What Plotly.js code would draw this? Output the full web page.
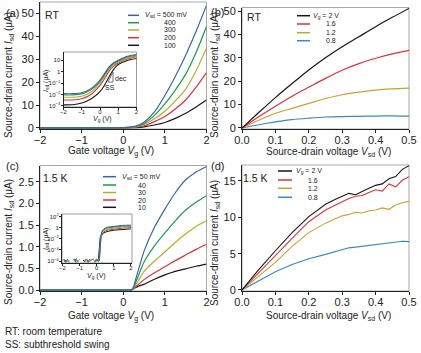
<!DOCTYPE html>
<html><head><meta charset="utf-8">
<script src="https://cdn.plot.ly/plotly-3.0.1.min.js"></script>
<style>html,body{margin:0;padding:0;background:#fff}#chart{width:421px;height:353px}</style>
</head><body><div id="chart"></div>
<script>
// ---------- DATA ----------
// (a) RT transfer curves, Isd (uA) vs Vg (V)
const vgA = [-2, -1.5, -1, -0.5, 0, 0.25, 0.4, 0.5, 0.75, 1.0, 1.25, 1.5, 1.75, 2.0];
const vsdLabelsA = ['500 mV', '400', '300', '200', '100'];
const idA500 = [0.01, 0.01, 0.02, 0.05, 0.2, 0.6, 1.5, 2.5, 7.0, 14.2, 22.5, 31.8, 42.2, 53.5];
const idA400 = [0.01, 0.01, 0.01, 0.04, 0.15, 0.5, 1.2, 2.0, 5.5, 10.5, 16.5, 23.5, 33.0, 44.3];
const idA300 = [0.005, 0.005, 0.01, 0.03, 0.1, 0.4, 0.9, 1.5, 4.0, 7.3, 11.8, 17.0, 25.0, 34.8];
const idA200 = [0.003, 0.003, 0.005, 0.02, 0.07, 0.3, 0.6, 1.0, 2.8, 5.0, 8.3, 12.2, 17.8, 24.2];
const idA100 = [0.001, 0.001, 0.002, 0.005, 0.02, 0.1, 0.3, 0.5, 1.3, 2.4, 4.2, 6.4, 9.2, 12.2];
// (a) inset, log scale
const vgAi = [-2, -1.5, -1, -0.5, 0, 0.25, 0.5, 0.75, 1, 1.5, 2];
const idAi500 = [0.01175, 0.01175, 0.01413, 0.0316, 0.182, 0.708, 2.63, 6.03, 10, 22.4, 31.6];
const idAi400 = [0.00912, 0.00912, 0.01122, 0.0251, 0.1413, 0.537, 2.09, 5.01, 8.51, 19.05, 28.2];
const idAi300 = [0.00575, 0.00575, 0.00708, 0.0166, 0.1, 0.38, 1.585, 3.98, 7.08, 15.85, 24.0];
const idAi200 = [0.00331, 0.00331, 0.00417, 0.01, 0.0631, 0.24, 1.12, 3.02, 5.62, 12.6, 19.95];
const idAi100 = [0.00123, 0.00126, 0.00178, 0.00398, 0.0174, 0.0631, 0.355, 1.585, 4.17, 9.55, 14.1];

// (b) RT output curves, Isd (uA) vs Vsd (V)
const vsdB = [0, 0.05, 0.1, 0.15, 0.2, 0.25, 0.3, 0.35, 0.4, 0.45, 0.5];
const vgLabels = ['2 V', '1.6', '1.2', '0.8'];
const idB20 = [0, 6.6, 13.0, 19.0, 24.8, 30.0, 34.7, 39.0, 43.3, 47.3, 51.1];
const idB16 = [0, 4.8, 9.3, 13.6, 17.4, 21.2, 24.7, 27.5, 29.8, 31.7, 33.2];
const idB12 = [0, 3.3, 6.3, 8.4, 10.5, 12.6, 14.2, 15.3, 16.2, 16.7, 17.0];
const idB08 = [0, 1.4, 2.6, 3.6, 4.2, 4.7, 4.9, 5.0, 5.1, 5.2, 5.1];

// (c) 1.5 K transfer curves
const vgC = [-2, -1, 0, 0.1, 0.15, 0.2, 0.25, 0.3, 0.4, 0.5, 0.75, 1.0, 1.25, 1.5, 1.75, 2.0];
const vsdLabelsC = ['50 mV', '40', '30', '20', '10'];
const idC50 = [0, 0, 0, 0, 0, 0, 0.08, 0.25, 0.58, 0.9, 1.45, 1.87, 2.25, 2.55, 2.73, 2.85];
const idC40 = [0, 0, 0, 0, 0, 0, 0.06, 0.18, 0.42, 0.65, 1.02, 1.32, 1.6, 1.85, 2.03, 2.18];
const idC30 = [0, 0, 0, 0, 0, 0, 0.04, 0.12, 0.28, 0.43, 0.67, 0.88, 1.1, 1.3, 1.47, 1.6];
const idC20 = [0, 0, 0, 0, 0, 0, 0.03, 0.08, 0.16, 0.24, 0.4, 0.54, 0.68, 0.81, 0.94, 1.06];
const idC10 = [0, 0, 0, 0, 0, 0.01, 0.03, 0.06, 0.1, 0.13, 0.25, 0.35, 0.43, 0.49, 0.55, 0.6];
// (c) inset, log scale (null = below range)
const vgCi = [-2.0,-1.9,-1.8,-1.7,-1.6,-1.5,-1.4,-1.3,-1.2,-1.1,-1.0,-0.9,-0.8,-0.7,-0.6,-0.5,-0.4,-0.3,-0.2,-0.1,0.0,0.1,0.15,0.2,0.22,0.25,0.3,0.4,0.6,1.0,1.5,2.0];
const idCi50 = [null,1.5e-6,6e-7,2.2e-6,null,null,null,9e-7,2.6e-6,7e-7,null,null,null,null,1.8e-6,6e-7,2.4e-6,null,null,1.3e-6,2.2e-6,8e-7, 1.5e-6,4e-4,6e-3,0.05,0.2,0.55,1.2,1.87,2.55,2.85];
const idCi40 = [1.2e-6,2e-6,8e-7,null,null,null,1.4e-6,2.3e-6,6e-7,null,null,null,null,1.1e-6,2.6e-6,9e-7,null,null,2e-6,7e-7,1.6e-6,1.1e-6, 2e-6,3e-4,5e-3,0.04,0.15,0.4,0.85,1.32,1.85,2.18];
const idCi30 = [null,null,1.8e-6,7e-7,1.5e-6,null,null,null,1.9e-6,8e-7,2.2e-6,null,null,null,null,1.4e-6,7e-7,2.1e-6,null,9e-7,1.3e-6,2.5e-6, 1e-6,2e-4,4e-3,0.03,0.1,0.27,0.55,0.88,1.3,1.6];
const idCi20 = [8e-7,null,null,1.6e-6,6e-7,null,null,2e-6,1e-6,null,null,null,null,1.7e-6,6e-7,null,null,1.5e-6,2.3e-6,null,8e-7,1.8e-6, 2.5e-6,1e-3,8e-3,0.025,0.07,0.16,0.35,0.54,0.81,1.06];
const idCi10 = [null,9e-7,1.4e-6,null,null,null,null,1.2e-6,6e-7,null,null,null,1.5e-6,8e-7,null,null,1.1e-6,1.9e-6,null,6e-7,1.7e-6,1.5e-6, 3e-3,0.015,0.025,0.035,0.055,0.1,0.2,0.35,0.49,0.6];

// (d) 1.5 K output curves
const vsdD = [0, 0.05, 0.1, 0.15, 0.2, 0.25, 0.28, 0.3, 0.32, 0.34, 0.36, 0.38, 0.4, 0.42, 0.44, 0.46, 0.48, 0.5];
const idD20 = [0, 2.8, 5.4, 7.9, 10.1, 11.8, 12.5, 12.9, 13.3, 13.1, 13.6, 14.0, 14.4, 14.6, 15.3, 15.6, 16.6, 17.1];
const idD16 = [0, 2.4, 4.7, 7.1, 9.4, 11.0, 11.7, 12.2, 12.6, 12.9, 13.0, 13.4, 13.8, 13.6, 14.6, 14.2, 15.1, 15.6];
const idD12 = [0, 1.9, 3.8, 6.0, 7.9, 9.2, 9.8, 10.2, 10.4, 10.7, 10.6, 10.9, 11.0, 11.3, 11.1, 11.7, 12.0, 12.2];
const idD08 = [0, 1.3, 2.5, 3.5, 4.3, 4.9, 5.3, 5.6, 5.8, 5.9, 6.0, 6.1, 6.25, 6.35, 6.4, 6.55, 6.7, 6.65];

const notes = ['RT: room temperature', 'SS: subthreshold swing'];

// ---------- STYLE / LAYOUT ----------
const W = 421, H = 353;
const fx = v => v / W, fy = v => 1 - v / H;
const FONT = 'Liberation Sans, Arial, Helvetica, sans-serif';
const colA = ['#3b63ad', '#1f9656', '#b3ad2e', '#e0313b', '#161616'];
const colB = ['#161616', '#e0313b', '#c9a232', '#3a87c3'];

const traces = [];
function addLines(xs, ysList, cols, xa, ya, width, order, shape) {
  order.forEach(i => traces.push({
    x: xs, y: ysList[i], type: 'scatter', mode: 'lines', xaxis: xa, yaxis: ya,
    line: {color: cols[i], width: width, shape: shape || 'spline', smoothing: 0.6},
    showlegend: false, hoverinfo: 'skip'
  }));
}
addLines(vgA, [idA500, idA400, idA300, idA200, idA100], colA, 'x', 'y', 1.2, [4,3,2,1,0]);
addLines(vsdB, [idB20, idB16, idB12, idB08], colB, 'x2', 'y2', 1.2, [3,2,1,0]);
addLines(vgC, [idC50, idC40, idC30, idC20, idC10], colA, 'x3', 'y3', 1.2, [4,3,2,1,0]);
addLines(vsdD, [idD20, idD16, idD12, idD08], colB, 'x4', 'y4', 1.1, [3,2,1,0], 'linear');
addLines(vgAi, [idAi500, idAi400, idAi300, idAi200, idAi100], colA, 'x5', 'y5', 1.1, [4,3,2,1,0]);
addLines(vgCi, [idCi50, idCi40, idCi30, idCi20, idCi10], colA, 'x6', 'y6', 1.0, [4,3,2,1,0], 'linear');

const base = {showline: true, linecolor: '#222', linewidth: 1, ticks: 'outside', ticklen: 3,
  tickwidth: 1, tickcolor: '#222', showgrid: false, zeroline: false, automargin: false,
  fixedrange: true, tickfont: {size: 11, color: '#222'}};
const bx = Object.assign({}, base, {ticklabelstandoff: -2});
const ins = Object.assign({}, base, {ticklen: 2, tickfont: {size: 6, color: '#222'}});

// plot-area frames in px: [x0, x1, y0(top), y1(bottom)]
const frames = [[40,206.5,2,129],[242,409,7.5,129],[40,206.5,165.5,291],[242,409,165,291]];
const insA = [63.5,136.5,52,107], insC = [62,132,214,263];

const layout = {
  width: W, height: H, margin: {l: 0, r: 0, t: 0, b: 0},
  paper_bgcolor: '#fff', plot_bgcolor: 'rgba(0,0,0,0)',
  font: {family: FONT, color: '#222'}, showlegend: false,
  xaxis: Object.assign({}, bx, {domain: [fx(40), fx(206.5)], range: [-2, 2], dtick: 1, anchor: 'y'}),
  yaxis: Object.assign({}, base, {domain: [fy(129), fy(2)], range: [-0.44, 55], dtick: 10, anchor: 'x'}),
  xaxis2: Object.assign({}, bx, {domain: [fx(242), fx(409)], range: [0, 0.5], dtick: 0.1, tickformat: '.1f', anchor: 'y2'}),
  yaxis2: Object.assign({}, base, {domain: [fy(129), fy(7.5)], range: [-0.43, 51.5], dtick: 10, anchor: 'x2'}),
  xaxis3: Object.assign({}, bx, {domain: [fx(40), fx(206.5)], range: [-2, 2], dtick: 1, anchor: 'y3'}),
  yaxis3: Object.assign({}, base, {domain: [fy(291), fy(165.5)], range: [-0.023, 2.88], dtick: 0.5, tickformat: '.1f', anchor: 'x3'}),
  xaxis4: Object.assign({}, bx, {domain: [fx(242), fx(409)], range: [0, 0.5], dtick: 0.1, tickformat: '.1f', anchor: 'y4'}),
  yaxis4: Object.assign({}, base, {domain: [fy(291), fy(165)], range: [-0.14, 17.2], dtick: 5, anchor: 'x4'}),
  xaxis5: Object.assign({}, ins, {domain: [fx(insA[0]), fx(insA[1])], range: [-2, 2], dtick: 1, anchor: 'y5', ticklabelstandoff: -3}),
  yaxis5: Object.assign({}, ins, {type: 'log', domain: [fy(insA[3]), fy(insA[2])], range: [-3.1, 1.72], anchor: 'x5',
    tickvals: [1e-3, 1e-2, 1e-1, 1, 10], ticktext: ['10<sup>−3</sup>', '10<sup>−2</sup>', '10<sup>−1</sup>', '1', '10'], ticklabelstandoff: -1}),
  xaxis6: Object.assign({}, ins, {domain: [fx(insC[0]), fx(insC[1])], range: [-2.03, 2.06], dtick: 1, anchor: 'y6', ticklabelstandoff: -3}),
  yaxis6: Object.assign({}, ins, {type: 'log', domain: [fy(insC[3]), fy(insC[2])], range: [-6.35, 2.45], anchor: 'x6',
    tickvals: [1e-6, 1e-4, 1e-2, 1, 100], ticktext: ['10<sup>−6</sup>', '10<sup>−4</sup>', '10<sup>−2</sup>', '1', '10<sup>2</sup>'], ticklabelstandoff: -1}),
  shapes: [], annotations: []
};

function frameRect(f, col) {
  layout.shapes.push({type: 'rect', xref: 'paper', yref: 'paper', layer: 'below',
    x0: fx(f[0]), x1: fx(f[1]), y0: fy(f[3]), y1: fy(f[2]), line: {color: col, width: 1}, fillcolor: '#fff'});
}
frames.forEach(f => frameRect(f, '#a8a8a8'));
frameRect(insA, '#999'); frameRect(insC, '#999');
// SS triangle
layout.shapes.push({type: 'path', xref: 'paper', yref: 'paper', layer: 'above',
  path: `M ${fx(108)} ${fy(82)} L ${fx(113)} ${fy(82)} L ${fx(113)} ${fy(72)} Z`, line: {color: '#555', width: 0.8}});

function txt(text, x, y, size, anchor, angle) {
  layout.annotations.push({xref: 'paper', yref: 'paper', x: fx(x), y: fy(y), text: text, showarrow: false,
    xanchor: anchor || 'left', yanchor: 'middle', borderpad: 0, borderwidth: 0, textangle: angle || 0,
    font: {size: size, color: '#222'}});
}
function legend(labels, prefix, cols, rows, lx0, lx1, tx0, tx1) {
  labels.forEach((lab, i) => {
    layout.shapes.push({type: 'line', xref: 'paper', yref: 'paper', x0: fx(lx0), x1: fx(lx1), y0: fy(rows[i]), y1: fy(rows[i]),
      line: {color: cols[i], width: 1.5}});
    if (i === 0) txt(prefix + ' = ' + lab, tx0, rows[i], 7);
    else txt(lab, tx1, rows[i], 7);
  });
}
legend(vsdLabelsA, '<i>V</i><sub>sd</sub>', colA, [15.3, 22.7, 30, 37.7, 45.3], 128, 139, 145, 164);
legend(vgLabels, '<i>V</i><sub>g</sub>', colB, [15.7, 24, 32.7, 40.7], 297, 310, 313, 326);
legend(vsdLabelsC, '<i>V</i><sub>sd</sub>', colA, [176.7, 185, 192.5, 200, 207.3], 103, 116, 122, 138);
legend(vgLabels, '<i>V</i><sub>g</sub>', colB, [171, 180, 188.3, 197.3], 278, 292, 296, 308);

// axis titles
const yT = 'Source-drain current <i>I</i><sub>sd</sub> (μA)';
const xTG = 'Gate voltage <i>V</i><sub>g</sub> (V)';
const xTS = 'Source-drain voltage <i>V</i><sub>sd</sub> (V)';
txt(yT, 9, 75, 10, 'center', -90); txt(yT, 215, 75, 10, 'center', -90);
txt(yT, 9, 242, 10, 'center', -90); txt(yT, 215, 243, 10, 'center', -90);
txt(xTG, 111, 151, 10, 'center'); txt(xTS, 328, 152, 10, 'center');
txt(xTG, 111, 316, 10, 'center'); txt(xTS, 328, 316, 10, 'center');
// inset titles
const iyT = '<i>I</i><sub>sd</sub> (μA)', ixT = '<i>V</i><sub>g</sub> (V)';
txt(iyT, 46, 81, 7, 'center', -90); txt(ixT, 102, 119.5, 7, 'center');
txt(iyT, 46, 239, 7, 'center', -90); txt(ixT, 96, 276, 7, 'center');

txt('(a)', 6, 13, 11); txt('(b)', 211, 12, 11); txt('(c)', 6, 166, 11); txt('(d)', 211, 166, 11);
txt('RT', 45, 15, 10.5); txt('RT', 247, 17, 10.5); txt('1.5 K', 43, 178, 10.5); txt('1.5 K', 243, 178, 10.5);
txt('dec', 115, 78, 7); txt('SS', 105, 88, 7);
txt(notes[0], 5, 331, 10); txt(notes[1], 5, 344, 10);

Plotly.newPlot('chart', traces, layout, {staticPlot: true, displayModeBar: false});
</script></body></html>
